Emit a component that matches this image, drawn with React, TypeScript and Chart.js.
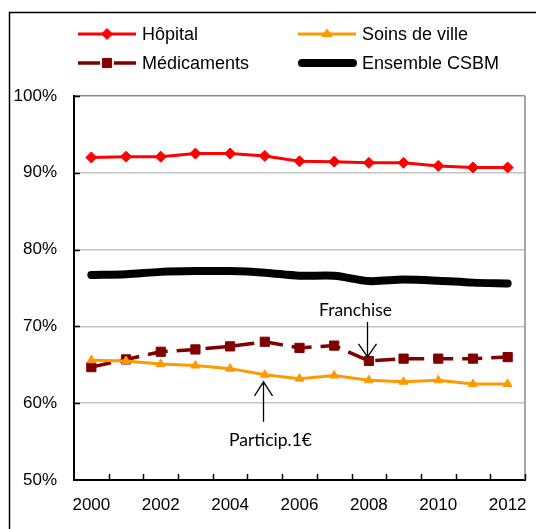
import { useEffect, useRef } from 'react';
import { Chart, registerables } from 'chart.js';

Chart.register(...registerables);

const years = ['2000', '2001', '2002', '2003', '2004', '2005', '2006', '2007', '2008', '2009', '2010', '2011', '2012'];
const hopital = [92.0, 92.1, 92.1, 92.5, 92.5, 92.2, 91.5, 91.45, 91.3, 91.3, 90.9, 90.7, 90.7];
const soinsDeVille = [65.6, 65.5, 65.1, 64.9, 64.5, 63.7, 63.2, 63.6, 63.0, 62.8, 63.0, 62.5, 62.5];
const medicaments = [64.7, 65.7, 66.7, 67.0, 67.4, 68.0, 67.2, 67.5, 65.5, 65.8, 65.8, 65.8, 66.0];
const ensembleCSBM = [76.7, 76.8, 77.1, 77.2, 77.2, 77.0, 76.6, 76.6, 75.9, 76.1, 75.95, 75.7, 75.6];
const yMin = 50;
const yMax = 100;
const yStep = 10;

const annotations = [
  { text: 'Franchise', dataset: 2, index: 8, dir: 'down' },
  { text: 'Particip.1€', dataset: 1, index: 5, dir: 'up' },
];

const AXIS_FONT = '"Liberation Sans", Arial, sans-serif';
const NOTE_FONT = 'Lato, "Open Sans", sans-serif';

function drawMarker(ctx: CanvasRenderingContext2D, style: string, x: number, y: number, r: number) {
  ctx.beginPath();
  if (style === 'rectRot') {
    ctx.moveTo(x - r, y);
    ctx.lineTo(x, y - r);
    ctx.lineTo(x + r, y);
    ctx.lineTo(x, y + r);
  } else if (style === 'triangle') {
    const h = r * 1.5;
    ctx.moveTo(x - r, y + h / 3);
    ctx.lineTo(x, y - (2 * h) / 3);
    ctx.lineTo(x + r, y + h / 3);
  } else {
    const s = r * Math.SQRT1_2;
    ctx.rect(x - s, y - s, 2 * s, 2 * s);
  }
  ctx.closePath();
  ctx.fill();
  ctx.stroke();
}

const decorPlugin = {
  id: 'decor',
  beforeDraw(chart: any) {
    const ctx = chart.ctx;
    ctx.save();
    ctx.fillStyle = '#ffffff';
    ctx.fillRect(0, 0, chart.width, chart.height);
    ctx.restore();
  },
  afterDraw(chart: any) {
    const ctx = chart.ctx;
    const area = chart.chartArea;
    ctx.save();
    // outer border
    ctx.strokeStyle = '#000000';
    ctx.lineWidth = 1.5;
    ctx.strokeRect(9.5, 12.5, 700, 700);
    // plot area right border
    ctx.strokeStyle = '#8a8a8a';
    ctx.lineWidth = 1.5;
    ctx.beginPath();
    ctx.moveTo(area.right, area.top);
    ctx.lineTo(area.right, area.bottom);
    ctx.stroke();
    // inner tick marks
    ctx.strokeStyle = '#000000';
    ctx.lineWidth = 1.5;
    const n = years.length;
    const w = (area.right - area.left) / n;
    for (let i = 1; i <= n; i++) {
      const x = Math.round(area.left + i * w) + 0.5;
      ctx.beginPath();
      ctx.moveTo(x, area.bottom);
      ctx.lineTo(x, area.bottom - 6);
      ctx.stroke();
    }
    const ys = chart.scales.y;
    for (let v = yMin + yStep; v <= yMax; v += yStep) {
      const y = Math.round(ys.getPixelForValue(v)) + 0.5;
      ctx.beginPath();
      ctx.moveTo(area.left, y);
      ctx.lineTo(area.left + 6, y);
      ctx.stroke();
    }

    // legend
    const rows = [34, 63];
    const cols = [{ x0: 78, x1: 136 }, { x0: 298, x1: 356 }];
    chart.data.datasets.forEach((ds: any, i: number) => {
      const col = cols[i % 2];
      const y = rows[Math.floor(i / 2)];
      const mid = (col.x0 + col.x1) / 2;
      ctx.save();
      ctx.strokeStyle = ds.borderColor;
      ctx.lineWidth = ds.borderWidth;
      ctx.lineCap = ds.borderCapStyle || 'butt';
      if (ds.borderDash && ds.borderDash.length) ctx.setLineDash([22, 14]);
      ctx.beginPath();
      if (ds.borderCapStyle === 'round') {
        ctx.moveTo(col.x0 + 4, y);
        ctx.lineTo(col.x1 - 3, y);
      } else {
        ctx.moveTo(col.x0, y);
        ctx.lineTo(col.x1, y);
      }
      ctx.stroke();
      ctx.setLineDash([]);
      if (ds.pointRadius > 0) {
        ctx.fillStyle = ds.pointBackgroundColor;
        ctx.strokeStyle = ds.pointBorderColor;
        ctx.lineWidth = 1;
        drawMarker(ctx, ds.pointStyle, mid, y, ds.pointRadius);
      }
      ctx.restore();
      ctx.fillStyle = '#000000';
      ctx.font = '18px ' + AXIS_FONT;
      ctx.textBaseline = 'middle';
      ctx.textAlign = 'left';
      ctx.fillText(ds.label, col.x1 + 6, y + 1);
    });

    // annotations
    annotations.forEach((a) => {
      const pt = chart.getDatasetMeta(a.dataset).data[a.index];
      if (!pt) return;
      const x = Math.round(pt.x) - 1.5;
      ctx.strokeStyle = '#000000';
      ctx.lineWidth = 1.3;
      ctx.fillStyle = '#000000';
      ctx.font = '17.5px ' + NOTE_FONT;
      ctx.textAlign = 'center';
      ctx.textBaseline = 'middle';
      if (a.dir === 'down') {
        const tip = pt.y - 4;
        const tail = tip - 35;
        ctx.beginPath();
        ctx.moveTo(x, tail);
        ctx.lineTo(x, tip);
        ctx.moveTo(x - 9, tip - 13);
        ctx.lineTo(x, tip);
        ctx.lineTo(x + 9, tip - 13);
        ctx.stroke();
        ctx.fillText(a.text, x - 12, tail - 12);
      } else {
        const tip = pt.y + 7;
        const tail = tip + 40;
        ctx.beginPath();
        ctx.moveTo(x, tail);
        ctx.lineTo(x, tip);
        ctx.moveTo(x - 9, tip + 14);
        ctx.lineTo(x, tip);
        ctx.lineTo(x + 9, tip + 14);
        ctx.stroke();
        ctx.fillText(a.text, x + 7, tail + 19);
      }
    });
    ctx.restore();
  },
};

export default function App() {
  const ref = useRef<HTMLCanvasElement | null>(null);
  useEffect(() => {
    if (!ref.current) return;
    const chart = new Chart(ref.current, {
      type: 'line',
      data: {
        labels: years,
        datasets: [
          {
            label: 'Hôpital',
            data: hopital,
            borderColor: '#ff0000',
            backgroundColor: '#ff0000',
            borderWidth: 3,
            pointStyle: 'rectRot',
            pointRadius: 5.5,
            pointBackgroundColor: '#ff0000',
            pointBorderColor: '#ff0000',
            pointBorderWidth: 1,
            tension: 0,
          },
          {
            label: 'Soins de ville',
            data: soinsDeVille,
            borderColor: '#ff9900',
            backgroundColor: '#ff9900',
            borderWidth: 3,
            pointStyle: 'triangle',
            pointRadius: 5,
            pointBackgroundColor: '#ff9900',
            pointBorderColor: '#ff9900',
            pointBorderWidth: 1,
            tension: 0,
          },
          {
            label: 'Médicaments',
            data: medicaments,
            borderColor: '#800000',
            backgroundColor: '#800000',
            borderWidth: 3.5,
            borderDash: [20, 9],
            pointStyle: 'rect',
            pointRadius: 6.5,
            pointBackgroundColor: '#800000',
            pointBorderColor: '#800000',
            pointBorderWidth: 1,
            tension: 0,
          },
          {
            label: 'Ensemble CSBM',
            data: ensembleCSBM,
            borderColor: '#000000',
            backgroundColor: '#000000',
            borderWidth: 8,
            borderCapStyle: 'round',
            borderJoinStyle: 'round',
            pointRadius: 0,
            tension: 0.3,
          },
        ],
      },
      options: {
        responsive: false,
        animation: false,
        events: [],
        layout: { padding: { left: 0, right: 11, top: 96, bottom: 0 } },
        plugins: {
          legend: { display: false },
          title: { display: false },
          tooltip: { enabled: false },
        },
        scales: {
          x: {
            type: 'category',
            offset: true,
            grid: { display: false, drawTicks: false },
            border: { display: true, color: '#000000', width: 2 },
            ticks: {
              autoSkip: false,
              maxRotation: 0,
              minRotation: 0,
              padding: 15,
              color: '#000000',
              font: { family: AXIS_FONT, size: 17 },
              callback: function (this: any, val: any, i: number) {
                return i % 2 === 0 ? this.getLabelForValue(val) : '';
              },
            },
            afterFit: (s: any) => {
              s.height = 49;
              s.paddingLeft = 0;
              s.paddingRight = 0;
            },
          },
          y: {
            min: yMin,
            max: yMax,
            grid: {
              drawTicks: false,
              lineWidth: 1.5,
              color: (c: any) => (c.tick && c.tick.value === yMax ? '#8a8a8a' : '#c4c4c4'),
            },
            border: { display: true, color: '#000000', width: 2 },
            ticks: {
              stepSize: yStep,
              padding: 17,
              color: '#000000',
              font: { family: AXIS_FONT, size: 17 },
              callback: (v: any) => v + '%',
            },
            afterFit: (s: any) => {
              s.width = 74;
              s.paddingTop = 0;
              s.paddingBottom = 0;
            },
          },
        },
      },
      plugins: [decorPlugin],
    });
    return () => chart.destroy();
  }, []);
  return (
    <div style={{ position: 'absolute', left: 0, top: 0, width: 536, height: 529 }}>
      <canvas ref={ref} width={536} height={529} />
    </div>
  );
}
